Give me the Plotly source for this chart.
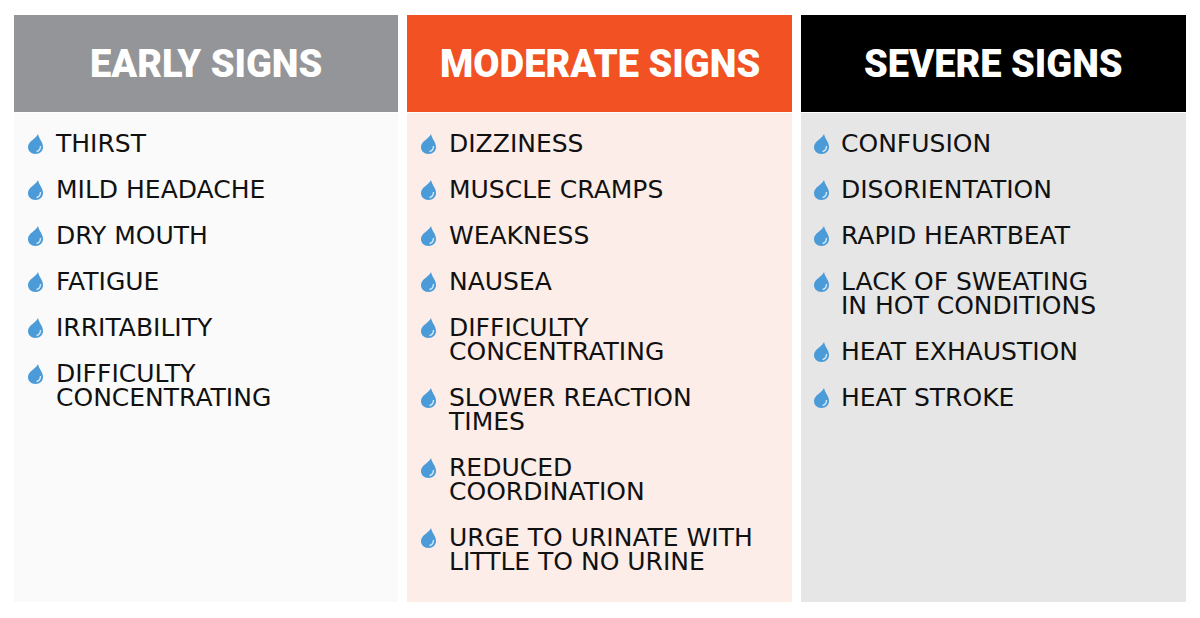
import plotly.graph_objects as go

headers = ['EARLY SIGNS', 'MODERATE SIGNS', 'SEVERE SIGNS']
header_colors = ['#939598', '#F15123', '#000000']
body_colors = ['#FAFAFA', '#FCEDE8', '#E6E6E6']
early = [['THIRST'], ['MILD HEADACHE'], ['DRY MOUTH'], ['FATIGUE'], ['IRRITABILITY'],
         ['DIFFICULTY', 'CONCENTRATING']]
moderate = [['DIZZINESS'], ['MUSCLE CRAMPS'], ['WEAKNESS'], ['NAUSEA'],
            ['DIFFICULTY', 'CONCENTRATING'], ['SLOWER REACTION', 'TIMES'],
            ['REDUCED', 'COORDINATION'], ['URGE TO URINATE WITH', 'LITTLE TO NO URINE']]
severe = [['CONFUSION'], ['DISORIENTATION'], ['RAPID HEARTBEAT'],
          ['LACK OF SWEATING', 'IN HOT CONDITIONS'], ['HEAT EXHAUSTION'], ['HEAT STROKE']]
columns = [early, moderate, severe]

panel_left = [14, 407, 801]
panel_w = [384, 385, 385]
text_offset = [42, 42, 40]
drop_offset = [14, 14, 13]

fig = go.Figure()


def drop_path(x, y):
    # little water drop, x/y is the top of the drop
    return (f'M {x + 10} {y} C {x + 8} {y + 5} {x} {y + 7} {x} {y + 13} '
            f'C {x} {y + 17} {x + 3} {y + 20} {x + 7.5} {y + 20} '
            f'C {x + 12} {y + 20} {x + 15} {y + 17} {x + 15} {y + 13} '
            f'C {x + 15} {y + 8} {x + 11} {y + 5} {x + 10} {y} Z')


def shine_path(x, y):
    # the pale crescent at the bottom right of the drop
    return f'M {x + 12.5} {y + 12} C {x + 12.5} {y + 15} {x + 11} {y + 17} {x + 8.5} {y + 17.5}'


for i, left in enumerate(panel_left):
    fig.add_shape(type='rect', x0=left, x1=left + panel_w[i], y0=15, y1=112,
                  fillcolor=header_colors[i], line_width=0, layer='below')
    fig.add_shape(type='rect', x0=left, x1=left + panel_w[i], y0=113, y1=602,
                  fillcolor=body_colors[i], line_width=0, layer='below')
    fig.add_annotation(x=left + panel_w[i] / 2, y=64, text=headers[i], showarrow=False,
                       xanchor='center', yanchor='middle',
                       font=dict(family='Roboto', size=38, weight=900, color='white'))

    xs, ys, labels = [], [], []
    y = 146
    for item in columns[i]:
        dx = left + drop_offset[i]
        fig.add_shape(type='path', path=drop_path(dx, y - 12), fillcolor='#4A9BD7', line_width=0)
        fig.add_shape(type='path', path=shine_path(dx, y - 12), line=dict(color='#D5E8F6', width=1.4))
        for line in item:
            xs.append(left + text_offset[i])
            ys.append(y)
            labels.append(line)
            y += 24
        y += 22
    fig.add_trace(go.Scatter(x=xs, y=ys, text=labels, mode='text', textposition='middle right',
                             textfont=dict(family='DejaVu Sans', size=25, color='#111111'),
                             hoverinfo='skip', showlegend=False))

fig.update_layout(width=1200, height=618, margin=dict(l=0, r=0, t=0, b=0),
                  paper_bgcolor='white', plot_bgcolor='white',
                  xaxis=dict(range=[0, 1200], visible=False),
                  yaxis=dict(range=[618, 0], visible=False))
fig.write_html("out.html", config={'displayModeBar': False},
               post_script="document.body.style.margin = '0';")
